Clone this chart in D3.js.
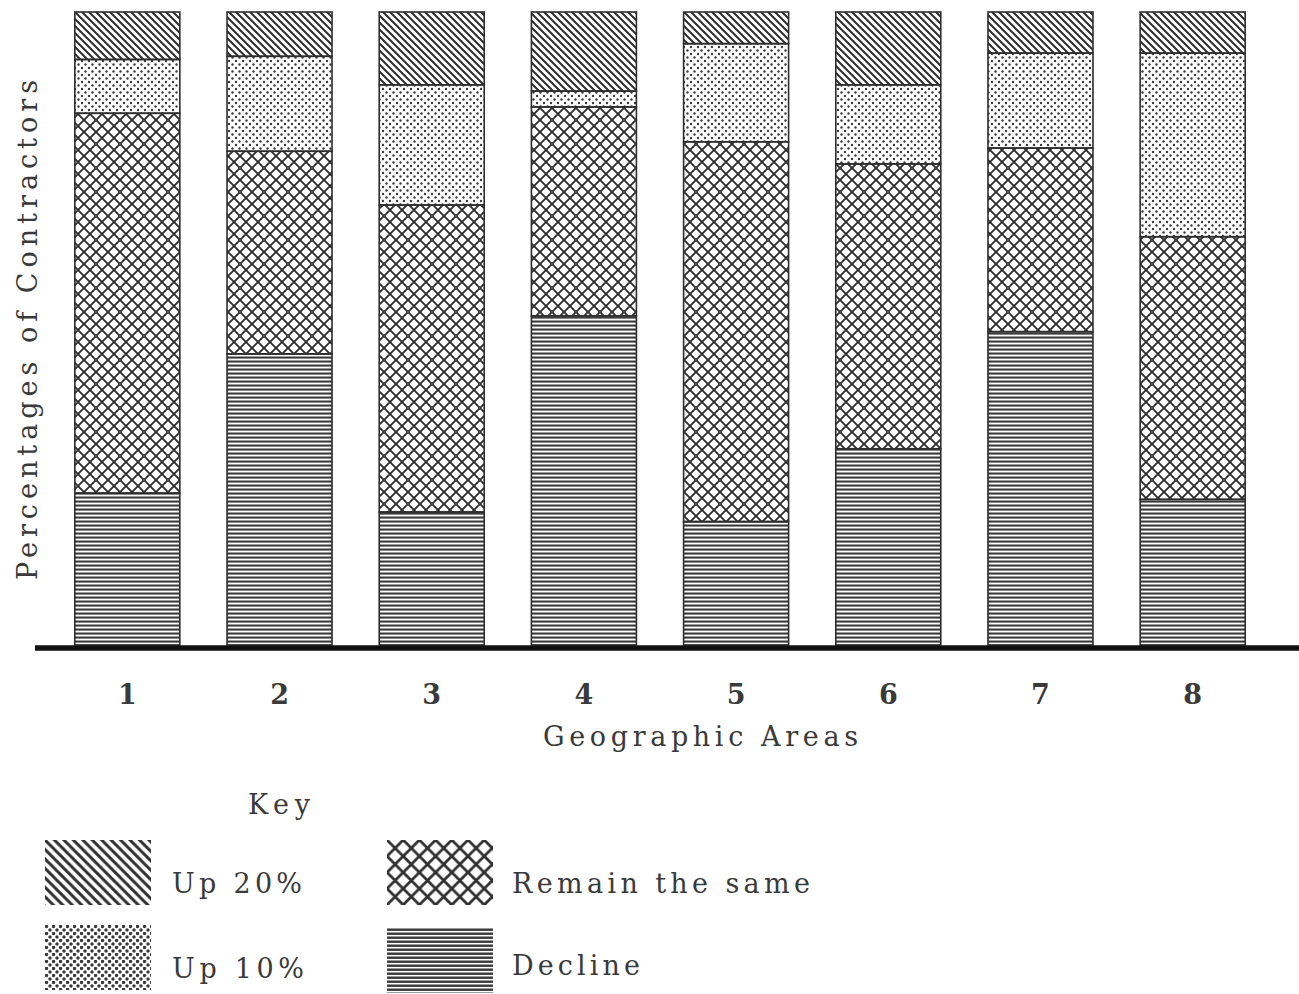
<!DOCTYPE html>
<html>
<head>
<meta charset="utf-8">
<script src="https://cdn.jsdelivr.net/npm/d3@7"></script>
<style>
  body { margin: 0; background: #fff; }
  text { font-family: "DejaVu Serif", "Liberation Serif", serif; fill: #3a3a3a; }
</style>
</head>
<body>
<svg id="chart" width="1299" height="994"></svg>
<script>
// data (percent of contractors per area)
const areas = ["1", "2", "3", "4", "5", "6", "7", "8"];
const decline    = [24, 46, 21, 52, 19.5, 31, 49.5, 23];
const remainSame = [60, 32, 48.5, 33, 60, 45, 29, 41.5];
const up10       = [8.5, 15, 19, 2.5, 15.5, 12.5, 15, 29];
const up20       = [7.5, 7, 11.5, 12.5, 5, 11.5, 6.5, 6.5];
const keys = ["decline", "same", "up10", "up20"];
const keyLabels = { up20: "Up 20%", up10: "Up 10%", same: "Remain the same", decline: "Decline" };

const ink = "#2e2e2e";
const svg = d3.select("#chart");

// hatch patterns; "s" = scale used for the key swatches (bolder)
const defs = svg.append("defs");

function makePatterns(suffix, s, w) {
    const a = 7 * s;
    const p1 = defs.append("pattern").attr("id", "p-up20" + suffix)
        .attr("patternUnits", "userSpaceOnUse").attr("width", a).attr("height", a);
    p1.append("path")
        .attr("d", `M${-2},${-2} L${a + 2},${a + 2} M${-2},${a - 2} L2,${a + 2} M${a - 2},-2 L${a + 2},2`)
        .attr("stroke", ink).attr("stroke-width", 2 * w);

    const p2 = defs.append("pattern").attr("id", "p-up10" + suffix)
        .attr("patternUnits", "userSpaceOnUse").attr("width", 7).attr("height", 7);
    [[1.5, 1.5], [5, 5]].forEach(([cx, cy]) =>
        p2.append("circle").attr("cx", cx).attr("cy", cy).attr("r", 1.2 * w).attr("fill", "#3a3a3a"));

    const c = 12 * s;
    const p3 = defs.append("pattern").attr("id", "p-same" + suffix)
        .attr("patternUnits", "userSpaceOnUse").attr("width", c).attr("height", c);
    p3.append("path")
        .attr("d", `M-3,-3 L${c + 3},${c + 3} M-3,${c + 3} L${c + 3},-3`)
        .attr("stroke", ink).attr("stroke-width", 1.9 * w).attr("fill", "none");

    const p4 = defs.append("pattern").attr("id", "p-decline" + suffix)
        .attr("patternUnits", "userSpaceOnUse").attr("width", 10).attr("height", 4);
    p4.append("rect").attr("x", 0).attr("y", 0.5).attr("width", 10).attr("height", 2.1 * Math.min(w, 1.15)).attr("fill", "#3a3a3a");
}
makePatterns("", 1, 1);
makePatterns("-key", 1.35, 1.45);

const fillFor = (k, suffix = "") => `url(#p-${k}${suffix})`;

// scales
const x = d3.scaleBand()
    .domain(areas)
    .range([52, 1268])
    .paddingInner(0.31)
    .paddingOuter(0.15);

const y = d3.scaleLinear()
    .domain([0, 100])
    .range([645, 12]);

const rows = areas.map((a, i) => ({
    area: a, decline: decline[i], same: remainSame[i], up10: up10[i], up20: up20[i]
}));
const series = d3.stack().keys(keys)(rows);

// bars
svg.append("g").selectAll("g")
    .data(series)
    .join("g")
    .attr("fill", d => fillFor(d.key))
    .selectAll("rect")
    .data(d => d)
    .join("rect")
    .attr("x", d => x(d.data.area))
    .attr("y", d => y(d[1]))
    .attr("width", x.bandwidth())
    .attr("height", d => y(d[0]) - y(d[1]))
    .attr("stroke", ink)
    .attr("stroke-width", 1.6);

// baseline
svg.append("line")
    .attr("x1", 35).attr("x2", 1299)
    .attr("y1", 648).attr("y2", 648)
    .attr("stroke", "#111").attr("stroke-width", 5.5);

// x axis labels
const xAxis = svg.append("g")
    .attr("transform", "translate(0,650)")
    .call(d3.axisBottom(x).tickSize(0).tickPadding(35));
xAxis.select(".domain").remove();
xAxis.selectAll("text")
    .style("font-family", "DejaVu Serif, serif")
    .style("font-size", "27px")
    .style("font-weight", "bold")
    .attr("fill", "#3a3a3a");

// titles, stretched to the widths seen in the picture
svg.append("text")
    .attr("x", 543).attr("y", 746)
    .attr("font-size", 27)
    .attr("textLength", 315).attr("lengthAdjust", "spacing")
    .text("Geographic Areas");

svg.append("text")
    .attr("transform", "translate(37,580) rotate(-90)")
    .attr("font-size", 27)
    .attr("textLength", 500).attr("lengthAdjust", "spacing")
    .text("Percentages of Contractors");

// key
svg.append("text")
    .attr("x", 248).attr("y", 814)
    .attr("font-size", 27)
    .attr("textLength", 62).attr("lengthAdjust", "spacing")
    .text("Key");

const legendItems = [
    { key: "up20", x: 45, y: 840, tx: 172, len: 130 },
    { key: "up10", x: 45, y: 925, tx: 172, len: 132 },
    { key: "same", x: 387, y: 840, tx: 512, len: 298 },
    { key: "decline", x: 387, y: 928, tx: 512, len: 128 }
];

const legend = svg.append("g").selectAll("g")
    .data(legendItems)
    .join("g")
    .attr("transform", d => `translate(${d.x},${d.y})`);

legend.append("rect")
    .attr("width", 106)
    .attr("height", 65)
    .attr("fill", d => fillFor(d.key, "-key"));

legend.append("text")
    .attr("x", d => d.tx - d.x)
    .attr("y", d => d.key === "decline" ? 47 : 53)
    .attr("font-size", 27)
    .attr("textLength", d => d.len).attr("lengthAdjust", "spacing")
    .text(d => keyLabels[d.key]);
</script>
</body>
</html>
